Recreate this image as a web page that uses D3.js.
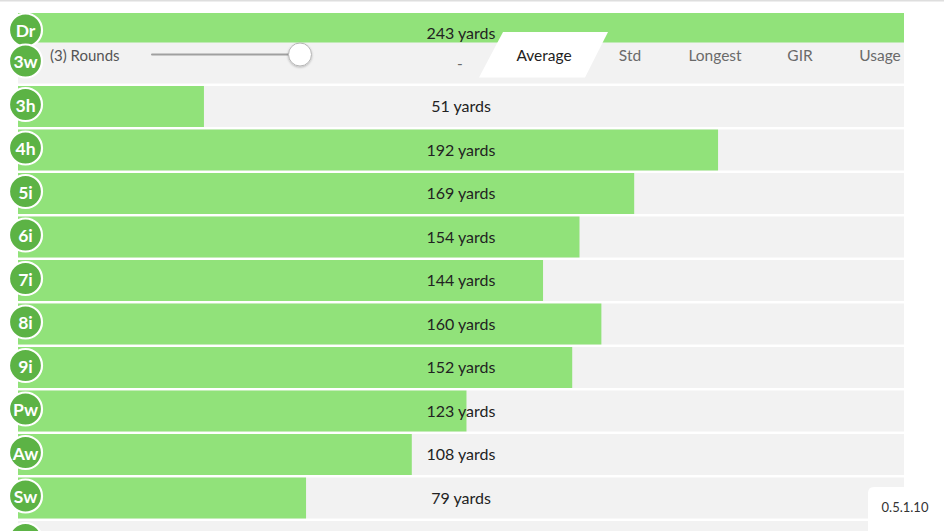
<!DOCTYPE html>
<html>
<head>
<meta charset="utf-8">
<script src="https://cdn.jsdelivr.net/npm/d3@7"></script>
<style>
  html, body { margin: 0; padding: 0; background: #fff; overflow: hidden; }
  svg { display: block; font-family: Lato, "Open Sans", sans-serif; }
</style>
</head>
<body>
<svg id="chart" width="944" height="531"></svg>
<script>
// ---- data ----
const clubs = ["Dr", "3w", "3h", "4h", "5i", "6i", "7i", "8i", "9i", "Pw", "Aw", "Sw", "Lw"];
const yards = [243, null, 51, 192, 169, 154, 144, 160, 152, 123, 108, 79, null];
const tabs = ["-", "Average", "Std", "Longest", "GIR", "Usage"];
const selectedTab = "Average";
const rounds = 3;
const roundsMax = 3;
const version = "0.5.1.10";

// ---- layout ----
const W = 944, H = 531;
const barLeft = 18, barRight = 904;
const svg = d3.select("#chart");

const x = d3.scaleLinear().domain([0, d3.max(yards)]).range([barLeft, barRight]);
const step = 43.5, pad = 0.0575;
const y = d3.scaleBand().domain(clubs).range([-1, -1 + step * (clubs.length - pad)]).paddingInner(pad).paddingOuter(0);
const bh = y.bandwidth();

const rows = clubs.map((c, i) => ({ club: c, value: yards[i] }));
// the first row is a sticky header pinned below the top edge
const rowTop = d => d.club === "Dr" ? 13 : y(d.club);
// texts only for rows whose middle is inside the window
const visibleText = d => rowTop(d) + bh / 2 + 8 < H;

// top border
svg.append("rect").attr("x", 0).attr("y", 0).attr("width", W).attr("height", 1.5).attr("fill", "#dedede");

const g = svg.append("g");
const rowG = g.selectAll("g.row").data(rows.filter(d => d.club !== "Dr" && d.club !== "3w")).join("g").attr("class", "row");

function drawRow(sel) {
  sel.append("rect").attr("x", barLeft).attr("y", d => rowTop(d)).attr("width", barRight - barLeft).attr("height", bh).attr("fill", "#f2f2f2");
  sel.filter(d => d.value != null).append("rect")
    .attr("x", barLeft).attr("y", d => rowTop(d))
    .attr("width", d => x(d.value) - x(0)).attr("height", bh).attr("fill", "#91e27a");
  sel.filter(visibleText).append("text").attr("x", (barLeft + barRight) / 2).attr("y", d => rowTop(d) + bh / 2 - 0.5)
    .attr("text-anchor", "middle").attr("dominant-baseline", "central")
    .attr("font-size", 16).attr("fill", "#222")
    .text(d => d.value == null ? "-" : d.value + " yards");
}
drawRow(rowG);

// sticky Dr row
const drRow = g.append("g").datum(rows[0]);
drawRow(drRow);

// 3w row panel with slider & tabs
const pTop = y("3w");
const panel = g.append("g");
panel.append("rect").attr("x", barLeft).attr("y", pTop).attr("width", barRight - barLeft).attr("height", bh).attr("fill", "#f2f2f2");
const py = pTop + 12;
panel.append("text").attr("x", 50).attr("y", py).attr("dominant-baseline", "central")
  .attr("font-size", 15).attr("fill", "#555").text(`(${rounds}) Rounds`);
const sx = d3.scaleLinear().domain([0, roundsMax]).range([152, 300]);
panel.append("line").attr("x1", sx(0)).attr("x2", sx(roundsMax)).attr("y1", py).attr("y2", py)
  .attr("stroke", "#a0a0a0").attr("stroke-width", 2).attr("stroke-linecap", "round");
const defs = svg.append("defs");
const f = defs.append("filter").attr("id", "sh").attr("x", "-50%").attr("y", "-50%").attr("width", "200%").attr("height", "200%");
f.append("feDropShadow").attr("dx", 0).attr("dy", 1).attr("stdDeviation", 1).attr("flood-color", "#000").attr("flood-opacity", 0.25);
panel.append("circle").attr("cx", sx(rounds)).attr("cy", py).attr("r", 11.5)
  .attr("fill", "#fff").attr("stroke", "#b5b5b5").attr("stroke-width", 1).attr("filter", "url(#sh)");

const tabCenters = {"-": 460, "Average": 544, "Std": 630, "Longest": 715, "GIR": 800, "Usage": 880};
const selX = tabCenters[selectedTab];
panel.append("path")
  .attr("d", `M${selX - 41},${pTop - 10.5} L${selX + 64},${pTop - 10.5} L${selX + 41},${pTop + 35} L${selX - 65},${pTop + 35} Z`)
  .attr("fill", "#fff");
panel.selectAll("text.tab").data(tabs).join("text").attr("class", "tab")
  .attr("x", d => tabCenters[d]).attr("y", d => d === "-" ? py + 8 : py)
  .attr("text-anchor", "middle").attr("dominant-baseline", "central")
  .attr("font-size", 15.5).attr("fill", d => d === selectedTab ? "#222" : "#6a6a6a")
  .text(d => d);

// club badges
g.selectAll("g.badge").data(rows).join("g").attr("class", "badge")
  .each(function(d) {
    const cy = rowTop(d) + bh / 2 - 2 - (d.club === "Dr" ? 1.5 : 0);
    const s = d3.select(this);
    s.append("circle").attr("cx", 25.5).attr("cy", cy).attr("r", 16.5)
      .attr("fill", "#5cb345").attr("stroke", "#fff").attr("stroke-width", 2.2);
    if (visibleText(d)) {
      s.append("text").attr("x", 25.5).attr("y", cy + 1).attr("text-anchor", "middle").attr("dominant-baseline", "central")
        .attr("font-size", 17.5).attr("font-weight", 700).attr("fill", "#fff").text(d.club);
    }
  });

// version box
svg.append("path").attr("d", `M868,531 L868,493 Q868,487 874,487 L944,487 L944,531 Z`).attr("fill", "#fff");
svg.append("text").attr("x", 905).attr("y", 507).attr("text-anchor", "middle").attr("dominant-baseline", "central")
  .attr("font-size", 13).attr("fill", "#333").text(version);
</script>
</body>
</html>
